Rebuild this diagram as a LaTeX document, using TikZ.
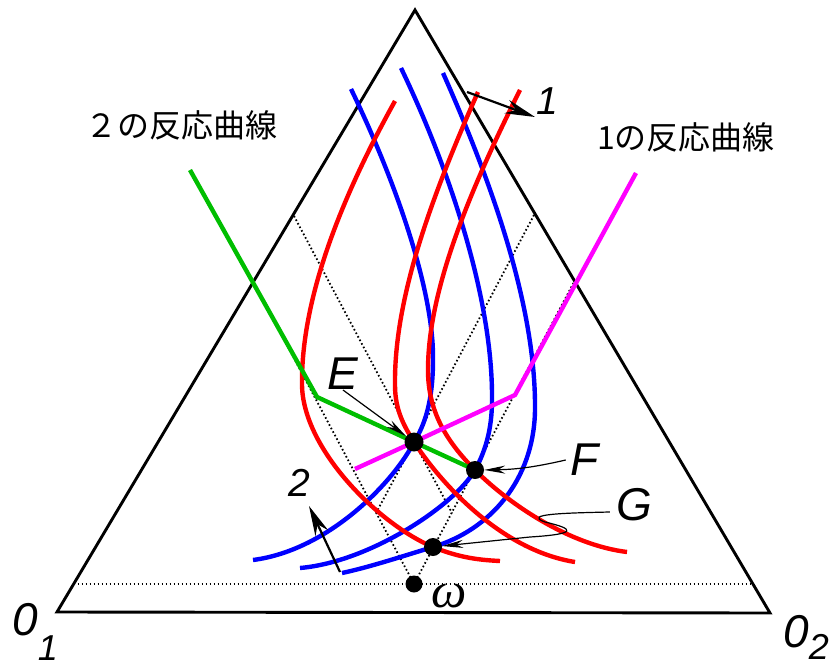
\documentclass[tikz,border=0pt]{standalone}
\usepackage{fontspec}
\setmainfont{Liberation Sans}
\newfontfamily\jpfont{Noto Sans CJK JP}
\newfontfamily\grfont{Liberation Serif}
\usetikzlibrary{arrows.meta}
\definecolor{gmgreen}{RGB}{0,190,0}
\definecolor{gmmagenta}{RGB}{255,0,255}
\begin{document}
\begin{tikzpicture}[x=1pt, y=-1pt,
  gmside/.style = {line width=2.9pt, line join=miter},
  gmdot/.style = {line width=1.8pt, dash pattern=on 1.6pt off 2.4pt},
  gmred/.style = {line width=4.4pt, red},
  gmblue/.style = {line width=4.4pt, blue},
  gmresp2/.style = {line width=4.4pt, gmgreen},
  gmresp1/.style = {line width=4.4pt, gmmagenta},
  gmpt/.style = {circle, fill=black, inner sep=0pt, minimum size=19pt},
  gmlbl/.style = {inner sep=0pt, font=\fontsize{46}{46}\selectfont\itshape},
  gmnum/.style = {inner sep=0pt, font=\fontsize{39}{39}\selectfont\itshape},
  gmjp/.style = {inner sep=0pt, font=\jpfont\fontsize{32}{32}\selectfont},
  gmarr/.style = {line width=1.2pt, -{Stealth[length=21pt, width=8pt]}},
  gmbig/.style = {line width=2.2pt, -{Stealth[length=30pt, width=14pt]}}
]
  \useasboundingbox (0,0) rectangle (832,666);
  % 三角形
  \coordinate (O1) at (57,612);
  \coordinate (O2) at (770,613);
  \coordinate (top) at (415,10);
  \coordinate (E) at (414,442);
  \coordinate (F) at (475,470);
  \coordinate (G) at (433,547);
  \coordinate (omega) at (414,584);
  \draw[gmside] (O1) -- (top) -- (O2) -- cycle;
  % 点線
  \draw[gmdot] (73.6,584) -- (752.6,584);
  \draw[gmdot] (254,283) -- (omega) -- (574,282);
  \draw[gmdot] (294,216) -- (E) -- (452,513);
  \draw[gmdot] (534,215) -- (E) -- (376,513);
  % 青の曲線
  \draw[gmblue] (351,89) .. controls (395,180) and (434,290) .. (433,360)
    .. controls (433,400) and (425,425) .. (E)
    .. controls (395,480) and (330,550) .. (253,560);
  \draw[gmblue] (401,68) .. controls (450,170) and (493,300) .. (492,400)
    .. controls (492,430) and (485,452) .. (F)
    .. controls (455,505) and (370,562) .. (300,568);
  \draw[gmblue] (443,73) .. controls (495,190) and (536,310) .. (535,410)
    .. controls (534,480) and (490,530) .. (G)
    .. controls (400,557) and (370,567) .. (342,573);
  % 赤の曲線
  \draw[gmred] (395,101) .. controls (340,200) and (301,300) .. (302,385)
    .. controls (303,450) and (380,525) .. (G)
    .. controls (460,558) and (480,560) .. (500,561);
  \draw[gmred] (478,92) .. controls (430,200) and (394,300) .. (395,385)
    .. controls (395,410) and (404,426) .. (E)
    .. controls (440,482) and (500,550) .. (575,562);
  \draw[gmred] (520,90) .. controls (470,190) and (428,290) .. (428,370)
    .. controls (428,410) and (445,440) .. (F)
    .. controls (510,505) and (570,545) .. (627,552);
  % 反応曲線
  \draw[gmresp2] (190,170) -- (317,397) -- (E) -- (F);
  \draw[gmresp1] (636,173) -- (515,395) -- (E) -- (355,469);
  % 点
  \node[gmpt] (Edot) at (E) {};
  \node[gmpt, minimum size=18pt] (Fdot) at (F) {};
  \node[gmpt, minimum size=18pt] (Gdot) at (G) {};
  \node[gmpt, minimum size=17pt] (wdot) at (omega) {};
  % ラベル
  \node[gmjp] (lbl2) at (181,125) {２の反応曲線};
  \node[gmjp] (lbl1) at (686,137) {1の反応曲線};
  \node[gmlbl] (Elbl) at (343,374) {E};
  \node[gmlbl] (Flbl) at (585,460) {F};
  \node[gmlbl] (Glbl) at (634,505) {G};
  \node[inner sep=0pt, font=\grfont\itshape\fontsize{50}{50}\selectfont] (wlbl) at (449,596) {ω};
  \node[gmlbl, anchor=base west] (O1lbl) at (12,635)
    {0\raisebox{-25pt}{\fontsize{36}{36}\selectfont 1}};
  \node[gmlbl, anchor=base west] (O2lbl) at (783,647)
    {0\raisebox{-12pt}{\fontsize{36}{36}\selectfont 2}};
  % 矢印
  \draw[gmarr] (Elbl.south) -- (Edot);
  \draw[gmarr] ([xshift=-5pt]Flbl.west) to[bend left=6] (Fdot);
  \draw[gmarr] ([shift={(-6,7)}]Glbl.west) .. controls (565,513) and (522,514) .. (545,522)
    .. controls (575,529) and (578,534) .. (530,537) -- (Gdot);
  \coordinate (a1s) at (467,92);
  \coordinate (a1e) at (535,117);
  \draw[gmbig] (a1s) -- (a1e);
  \node[gmnum] (n1) at (547,101) {1};
  \coordinate (a2s) at (340,572);
  \coordinate (a2e) at (309,506);
  \draw[gmbig] (a2s) -- (a2e);
  \node[gmnum] (n2) at (299,483) {2};
\end{tikzpicture}
\end{document}
